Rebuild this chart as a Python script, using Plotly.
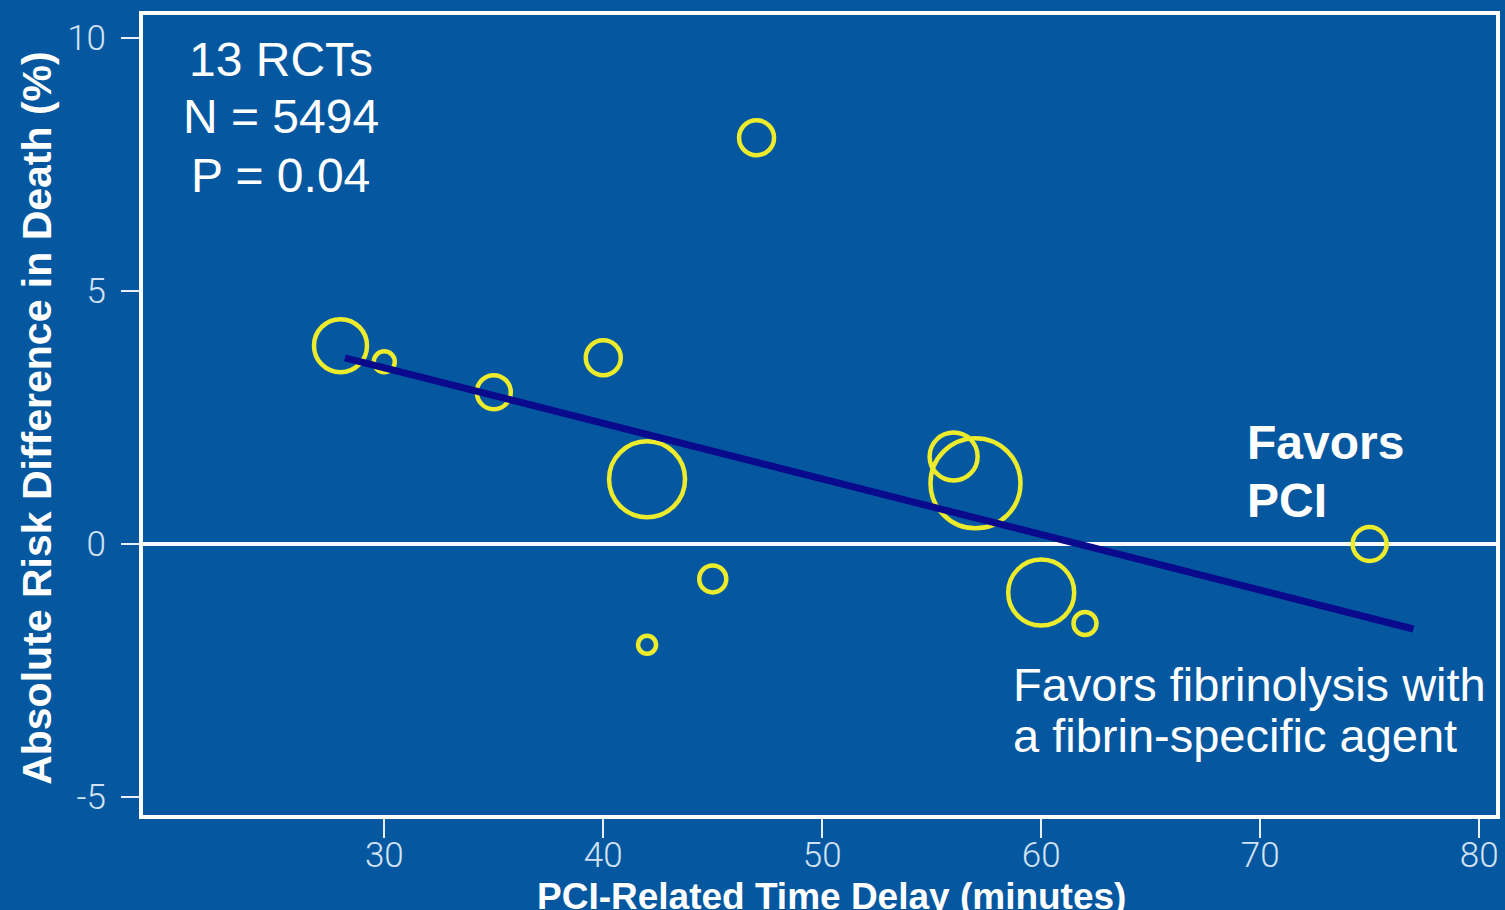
import plotly.graph_objects as go

# ---- data ----
delay_min = [28, 30, 35, 40, 42, 42, 45, 47, 56, 57, 60, 62, 75]
risk_diff = [3.92, 3.6, 3.0, 3.68, 1.28, -1.99, -0.69, 8.03, 1.73, 1.2, -0.96, -1.57, 0.0]
trial_weight = [53, 21, 34, 35, 76, 18, 27, 35, 48, 90, 66, 23, 34]
fit_delay = [28.2, 77.0]
fit_risk = [3.68, -1.68]
x_ticks = [30, 40, 50, 60, 70, 80]
y_ticks = [-5, 0, 5, 10]
y_tick_labels = ["-5", "0", "5", "10"]

BG = "#0558a0"
YEL = "#ecec2c"
NAVY = "#0a0a8c"
FONT = "Liberation Sans, Arial, sans-serif"

fig = go.Figure()
fig.add_trace(go.Scatter(
    x=delay_min, y=risk_diff, mode="markers",
    marker=dict(size=trial_weight, sizemode="diameter", sizeref=1, opacity=1,
                color="rgba(0,0,0,0)", line=dict(color=YEL, width=4.5)),
    hoverinfo="x+y", showlegend=False))
fig.add_trace(go.Scatter(
    x=fit_delay, y=fit_risk, mode="lines",
    line=dict(color=NAVY, width=7), showlegend=False, hoverinfo="skip"))

tickfont = dict(family="Roboto, Liberation Sans, sans-serif", size=35,
                color="#d3e3f4", weight=300)
fig.update_xaxes(range=[18.98, 80.77], tickvals=x_ticks, ticks="outside", ticklen=19,
                 tickwidth=2, tickcolor="#e8f0f8", showgrid=False, zeroline=False,
                 showline=True, linecolor="white", linewidth=4, mirror=True,
                 tickfont=tickfont, ticklabelstandoff=-13)
fig.update_yaxes(range=[-5.356, 10.455], tickvals=y_ticks, ticktext=y_tick_labels,
                 ticks="outside", ticklen=18,
                 tickwidth=2, tickcolor="#e8f0f8", showgrid=False, zeroline=True,
                 zerolinecolor="white", zerolinewidth=4,
                 showline=True, linecolor="white", linewidth=4, mirror=True,
                 tickfont=tickfont, ticklabelstandoff=8)

ann = []
for txt, yy in [("13 RCTs", 9.585), ("N = 5494", 8.44), ("P = 0.04", 7.29)]:
    ann.append(dict(x=25.26, y=yy, xref="x", yref="y", text=txt, showarrow=False,
                    xanchor="center", yanchor="middle",
                    font=dict(family=FONT, size=48, color="white")))
for txt, yy in [("<b>Favors</b>", 2.0), ("<b>PCI</b>", 0.85)]:
    ann.append(dict(x=69.3, y=yy, xref="x", yref="y", text=txt, showarrow=False,
                    xanchor="left", yanchor="middle",
                    font=dict(family=FONT, size=48, color="white")))
for txt, yy in [("Favors fibrinolysis with", -2.78), ("a fibrin-specific agent", -3.78)]:
    ann.append(dict(x=58.6, y=yy, xref="x", yref="y", text=txt, showarrow=False,
                    xanchor="left", yanchor="middle",
                    font=dict(family=FONT, size=47, color="white")))
ann.append(dict(x=-0.078, y=0.497, xref="paper", yref="paper",
                text="<b>Absolute Risk Difference in Death (%)</b>", textangle=-90,
                showarrow=False, xanchor="center", yanchor="middle",
                font=dict(family=FONT, size=41, color="white")))
ann.append(dict(x=0.5085, y=-0.074, xref="paper", yref="paper",
                text="<b>PCI-Related Time Delay (minutes)</b>",
                showarrow=False, xanchor="center", yanchor="top",
                font=dict(family=FONT, size=37, color="white")))

fig.update_layout(width=1505, height=910, paper_bgcolor=BG, plot_bgcolor=BG,
                  margin=dict(l=143, r=5, t=15, b=95), annotations=ann,
                  showlegend=False)
fig.write_html("out.html", config={"displayModeBar": False},
               post_script="document.body.style.margin='0';"
                           "document.body.style.background='" + BG + "';")
